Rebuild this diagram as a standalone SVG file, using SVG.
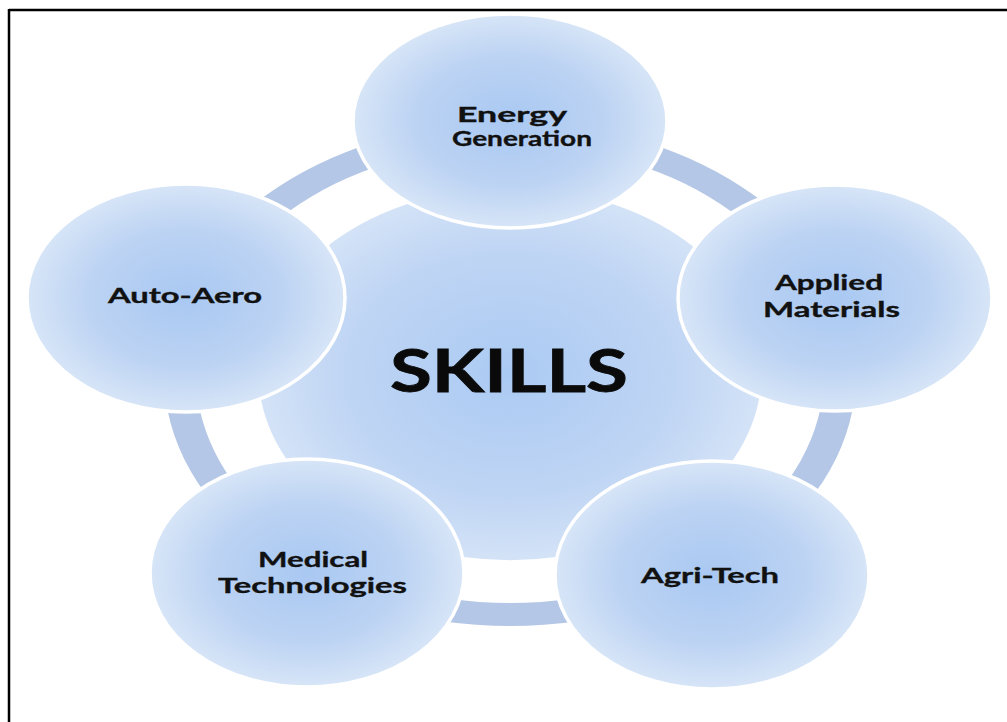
<svg xmlns="http://www.w3.org/2000/svg" width="1007" height="722" viewBox="0 0 1007 722">
  <style>
    .bubble { fill: url(#bubbleFill); stroke: #ffffff; stroke-width: 3.5; }
    .hub { fill: url(#hubFill); stroke: #ffffff; stroke-width: 3.5; }
    .label { font-family: Lato, "Open Sans", "Liberation Sans", sans-serif; font-weight: 700; font-size: 21px; fill: #111111; stroke: #111111; stroke-width: 0.35; }
    .title { font-family: Lato, "Open Sans", "Liberation Sans", sans-serif; font-weight: 700; font-size: 60px; fill: #0a0a0a; stroke: #0a0a0a; stroke-width: 0.8; }
  </style>
  <defs>
    <radialGradient id="bubbleFill" cx="0.5" cy="0.5" r="0.5">
      <stop offset="0" stop-color="#a9c8f2"/>
      <stop offset="0.6" stop-color="#bcd3f3"/>
      <stop offset="1" stop-color="#d7e5f7"/>
    </radialGradient>
    <radialGradient id="hubFill" cx="0.5" cy="0.5" r="0.5">
      <stop offset="0" stop-color="#abcaf3"/>
      <stop offset="0.65" stop-color="#bfd5f4"/>
      <stop offset="1" stop-color="#d4e3f7"/>
    </radialGradient>
  </defs>

  <rect width="1007" height="722" fill="#ffffff"/>

  <!-- frame lines -->
  <line x1="9" y1="10" x2="1007" y2="10" stroke="#000000" stroke-width="2.5"/>
  <line x1="9" y1="9" x2="9" y2="722" stroke="#000000" stroke-width="2.5"/>

  <!-- connecting ring -->
  <g id="connectors">
    <path fill="#b4c7e6" fill-rule="evenodd"
      d="M164,374 a346,252 0 1,0 692,0 a346,252 0 1,0 -692,0 Z
         M196,374 a314,229 0 1,0 628,0 a314,229 0 1,0 -628,0 Z"/>
  </g>

  <!-- central hub -->
  <g id="node-skills">
    <ellipse class="hub" cx="510" cy="374" rx="253" ry="188"/>
    <text class="title" x="390" y="392" textLength="238" lengthAdjust="spacingAndGlyphs">SKILLS</text>
  </g>

  <g id="node-energy">
    <ellipse class="bubble" cx="510" cy="121" rx="157" ry="107"/>
    <text class="label" x="457" y="122" textLength="110" lengthAdjust="spacingAndGlyphs">Energy</text>
    <text class="label" x="452" y="146" textLength="140" lengthAdjust="spacingAndGlyphs">Generation</text>
  </g>

  <g id="node-applied">
    <ellipse class="bubble" cx="835" cy="298" rx="157" ry="113"/>
    <text class="label" x="775" y="290" textLength="108" lengthAdjust="spacingAndGlyphs">Applied</text>
    <text class="label" x="763" y="317" textLength="137" lengthAdjust="spacingAndGlyphs">Materials</text>
  </g>

  <g id="node-agritech">
    <ellipse class="bubble" cx="712" cy="575" rx="157" ry="114"/>
    <text class="label" x="641" y="583" textLength="138" lengthAdjust="spacingAndGlyphs">Agri-Tech</text>
  </g>

  <g id="node-medical">
    <ellipse class="bubble" cx="307" cy="573" rx="157" ry="114"/>
    <text class="label" x="258" y="567" textLength="110" lengthAdjust="spacingAndGlyphs">Medical</text>
    <text class="label" x="218" y="593" textLength="189" lengthAdjust="spacingAndGlyphs">Technologies</text>
  </g>

  <g id="node-autoaero">
    <ellipse class="bubble" cx="186" cy="298" rx="159" ry="114"/>
    <text class="label" x="108" y="303" textLength="154" lengthAdjust="spacingAndGlyphs">Auto-Aero</text>
  </g>
</svg>
